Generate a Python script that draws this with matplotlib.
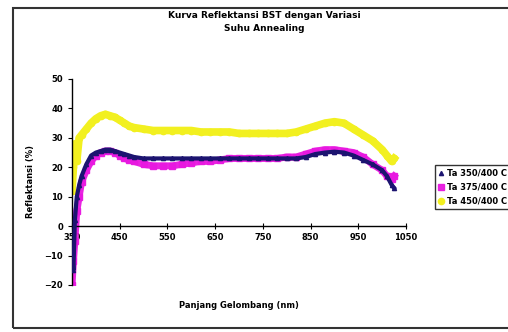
import matplotlib as mpl
mpl.use('Agg')

import matplotlib.pyplot as plt
import matplotlib.patches as patches

# wavelength (nm) and reflectance (%)
wavelength = [350, 353, 356, 360, 365, 370, 380, 390, 400, 410, 420, 430, 440,
              450, 460, 470, 480, 500, 520, 540, 560, 580, 600, 620, 640, 660,
              680, 700, 720, 740, 760, 780, 800, 820, 840, 860, 880, 900, 920,
              940, 960, 980, 1000, 1010, 1020, 1025]
refl_a = [-8, -15, 2, 10, 14, 17, 21, 24, 25, 25.5, 26, 26, 25.5,
          25, 24.5, 24, 23.5, 23, 23, 23, 23, 23, 23, 23, 23, 23,
          23, 23, 23, 23, 23, 23, 23, 23, 23.5, 24.5, 25, 25.3, 25,
          24, 22.5, 21, 19, 17, 14, 13]
refl_b = [-20, -12, -5, 5, 10, 15, 19, 22, 24, 25, 25.5, 25.5, 25,
          24, 23, 22.5, 22, 21, 20.5, 20.5, 20.5, 21, 21.5, 22, 22, 22.5,
          23, 23, 23, 23, 23, 23, 23.5, 23.5, 24.5, 25.5, 26, 26, 25.5,
          25, 23.5, 21, 19, 17, 16, 17]
refl_c = [12, 20, 28, 22, 30, 31, 33, 35, 36.5, 37.5, 38, 37.5, 37,
          36, 35, 34, 33.5, 33, 32.5, 32.5, 32.5, 32.5, 32.5, 32, 32, 32,
          32, 31.5, 31.5, 31.5, 31.5, 31.5, 31.5, 32, 33, 34, 35, 35.5, 35,
          33, 31, 29, 26, 24, 22, 23]
labels = ['Ta 350/400 C', 'Ta 375/400 C', 'Ta 450/400 C']
x_ticks = [350, 450, 550, 650, 750, 850, 950, 1050]
y_ticks = [-20, -10, 0, 10, 20, 30, 40, 50]

fig = plt.figure(figsize=(5.08, 3.32), dpi=100)

# outer chart border (right side runs off the picture)
fig.patches.append(patches.Rectangle((13 / 508, 4 / 332), 0.99, 320 / 332,
                                     transform=fig.transFigure, fill=False,
                                     edgecolor='#333333', linewidth=1.5))

ax = fig.add_axes([72 / 508, 1 - 285 / 332, (406 - 72) / 508, 206 / 332])

ax.plot(wavelength, refl_a, color='#1c1470', marker='^', markersize=3,
        linewidth=3, label=labels[0], zorder=3)
ax.plot(wavelength, refl_b, color='#e818e0', marker='s', markersize=4.5,
        linewidth=5, label=labels[1], alpha=0.95, zorder=2)
ax.plot(wavelength, refl_c, color='#f2f020', marker='o', markersize=4.5,
        linewidth=5.5, label=labels[2], zorder=2)

ax.set_xlim(350, 1050)
ax.set_ylim(-20, 50)
ax.set_xticks(x_ticks)
ax.set_yticks(y_ticks)

for s in ['top', 'right']:
    ax.spines[s].set_visible(False)
ax.spines['bottom'].set_position(('data', 0))
ax.spines['bottom'].set_linewidth(1)
ax.spines['left'].set_linewidth(1)
ax.tick_params(axis='x', direction='inout', length=4, labelsize=6, pad=3)
ax.tick_params(axis='y', direction='out', length=3, labelsize=6)
for t in ax.get_xticklabels() + ax.get_yticklabels():
    t.set_fontweight('bold')

ax.set_xlabel('Panjang Gelombang (nm)', fontsize=6, fontweight='bold',
              labelpad=0)
ax.xaxis.set_label_coords(0.5, -0.08)
ax.set_ylabel('Reflektansi (%)', fontsize=6, fontweight='bold')
ax.yaxis.set_label_coords(-0.11, 0.5)

fig.text(264 / 508, 1 - 22 / 332,
         'Kurva Reflektansi BST dengan Variasi\nSuhu Annealing',
         ha='center', va='center', fontsize=6.5, fontweight='bold',
         linespacing=1.5)

leg = fig.legend(loc='upper left', bbox_to_anchor=(431 / 508, 1 - 161 / 332),
                 frameon=True, fancybox=False,
                 handlelength=0.6, handletextpad=0.4, borderpad=0.4,
                 labelspacing=0.6, prop={'weight': 'bold', 'size': 6})
leg.get_frame().set_edgecolor('black')
leg.get_frame().set_linewidth(1)
for h in leg.legend_handles:
    h.set_linestyle('none')

fig.savefig('out.png', dpi=100)
